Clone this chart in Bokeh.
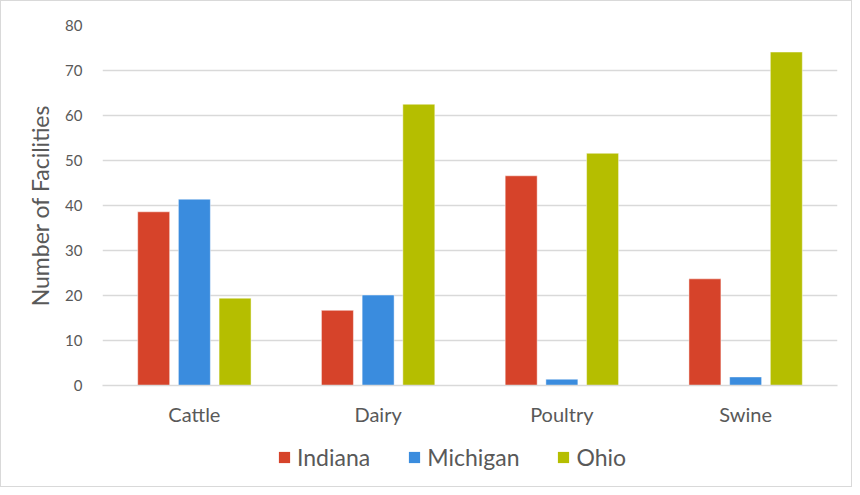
from bokeh.plotting import figure
from bokeh.models import (ColumnDataSource, FactorRange, Range1d, FixedTicker,
                          Legend, LegendItem)
from bokeh.layouts import column
from bokeh.transform import dodge
from bokeh.embed import file_html
from bokeh.resources import INLINE

categories = ["Cattle", "Dairy", "Poultry", "Swine"]
indiana = [38.6, 16.7, 46.6, 23.7]
michigan = [41.4, 20.1, 1.4, 1.9]
ohio = [19.4, 62.5, 51.6, 74.1]
y_ticks = [0, 10, 20, 30, 40, 50, 60, 70, 80]

series_names = ["Indiana", "Michigan", "Ohio"]
colors = ["#D6432A", "#3A8CDE", "#B5BE00"]

source = ColumnDataSource(data=dict(cat=categories, Indiana=indiana,
                                    Michigan=michigan, Ohio=ohio))

FONT = "Lato"
TXT = "#595959"
GRID = "#D9D9D9"

W, H1, H2 = 850, 439, 46
p = figure(x_range=FactorRange(factors=categories), y_range=Range1d(0, 80),
           width=W, height=H1, output_backend="svg", toolbar_location=None,
           min_border_left=101, min_border_right=14, min_border_top=24,
           min_border_bottom=H1 - 360 - 24)

offsets = [-0.2215, 0.0, 0.2215]
for name, col, off in zip(series_names, colors, offsets):
    p.vbar(x=dodge("cat", off, range=p.x_range), top=name, width=0.174,
           source=source, fill_color=col, line_color="white",
           line_alpha=0.45, line_width=1)

p.outline_line_color = None
p.background_fill_color = "white"
p.border_fill_color = "white"

p.xgrid.grid_line_color = None
p.ygrid.grid_line_color = GRID
p.ygrid.grid_line_width = 1.5
p.yaxis.ticker = FixedTicker(ticks=y_ticks)

p.yaxis.axis_line_color = None
p.yaxis.major_tick_line_color = None
p.yaxis.minor_tick_line_color = None
p.yaxis.major_label_text_font = FONT
p.yaxis.major_label_text_font_size = "15px"
p.yaxis.major_label_text_color = TXT
p.yaxis.major_label_standoff = 14
p.yaxis.axis_label = "Number of Facilities"
p.yaxis.axis_label_text_font = FONT
p.yaxis.axis_label_text_font_size = "23px"
p.yaxis.axis_label_text_font_style = "normal"
p.yaxis.axis_label_text_color = TXT
p.yaxis.axis_label_standoff = 8

p.xaxis.axis_line_color = GRID
p.xaxis.axis_line_width = 1.5
p.xaxis.major_tick_line_color = None
p.xaxis.minor_tick_line_color = None
p.xaxis.major_label_text_font = FONT
p.xaxis.major_label_text_font_size = "20px"
p.xaxis.major_label_text_color = TXT
p.xaxis.major_label_standoff = 10

# legend strip (swatch renderers have zero height, so only the legend shows)
q = figure(width=W, height=H2, x_range=Range1d(0, 1), y_range=Range1d(0, 1),
           output_backend="svg", toolbar_location=None,
           x_axis_location=None, y_axis_location=None,
           min_border_left=0, min_border_right=0, min_border_top=0,
           min_border_bottom=0)
q.outline_line_color = None
q.grid.grid_line_color = None
q.background_fill_color = "white"
q.border_fill_color = "white"

items = []
for name, col in zip(series_names, colors):
    r = q.vbar(x=[0.5], top=[0], bottom=[0], width=0.01, fill_color=col,
               line_alpha=0)
    items.append(LegendItem(label=name, renderers=[r]))

legend = Legend(items=items, orientation="horizontal", location=(175, 15),
                background_fill_alpha=0, border_line_alpha=0,
                padding=0, margin=0, spacing=37, label_standoff=6,
                glyph_width=14, glyph_height=14, label_height=14,
                label_text_font=FONT, label_text_font_size="23px",
                label_text_color=TXT)
q.add_layout(legend, "center")

layout = column(p, q, spacing=0, styles={"border": "1px solid #D9D9D9"})

open("out.html", "w").write(file_html(layout, INLINE))
